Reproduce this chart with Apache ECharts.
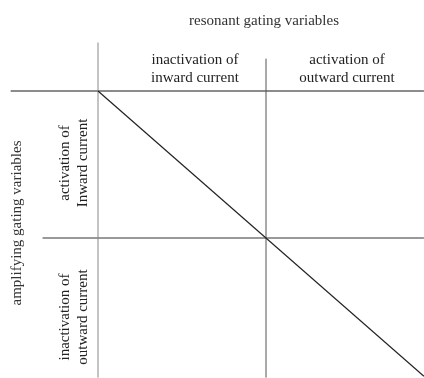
<!DOCTYPE html>
<html>
<head>
<meta charset="utf-8">
<script src="https://cdn.jsdelivr.net/npm/echarts@6/dist/echarts.min.js"></script>
<style>
  html, body { margin: 0; padding: 0; background: #fff; }
  #chart { width: 424px; height: 378px; }
</style>
</head>
<body>
<div id="chart"></div>
<script>
// table units: one column is 1 wide, one row is 1 tall; cell corner at (0, 0)
const columnLabels = ['inactivation of\ninward current', 'activation of\noutward current']
const rowLabels = ['activation of\nInward current', 'inactivation of\noutward current']
const topTitle = 'resonant gating variables'
const sideTitle = 'amplifying gating variables'

const headerRule = [[-0.52, 0], [1.94, 0]]
const middleRule = [[-0.33, 1], [1.94, 1]]
const leftDivider = [[0, -0.33], [0, 1.95]]
const middleDivider = [[1, -0.22], [1, 1.95]]
const diagonal = [[0, 0], [1.94, 1.94]]

const chart = echarts.init(document.getElementById('chart'))

const font = '"Liberation Serif", "DejaVu Serif", serif'

function rule(data, color, width) {
  return {
    type: 'line',
    data: data,
    symbol: 'none',
    silent: true,
    lineStyle: { color: color, width: width }
  }
}

const option = {
  backgroundColor: '#fff',
  animation: false,
  grid: { left: 0, right: 0, top: 0, bottom: 0 },
  xAxis: {
    type: 'value',
    min: -98 / 168,
    max: 326 / 168,
    show: false
  },
  yAxis: {
    type: 'value',
    inverse: true,
    min: -91 / 147,
    max: 287 / 147,
    show: false
  },
  title: {
    text: topTitle,
    left: 259,
    top: 9,
    textAlign: 'center',
    textStyle: { fontFamily: font, fontSize: 15, fontWeight: 'normal', color: '#333' }
  },
  graphic: [
    {
      type: 'text', x: 195, y: 69,
      style: { text: columnLabels[0], font: '15px ' + font, fill: '#222', align: 'center', verticalAlign: 'middle', lineHeight: 18 }
    },
    {
      type: 'text', x: 347, y: 69,
      style: { text: columnLabels[1], font: '15px ' + font, fill: '#222', align: 'center', verticalAlign: 'middle', lineHeight: 18 }
    },
    {
      type: 'text', x: 74, y: 163, rotation: Math.PI / 2,
      style: { text: rowLabels[0], font: '15px ' + font, fill: '#222', align: 'center', verticalAlign: 'middle', lineHeight: 18 }
    },
    {
      type: 'text', x: 74, y: 317, rotation: Math.PI / 2,
      style: { text: rowLabels[1], font: '15px ' + font, fill: '#222', align: 'center', verticalAlign: 'middle', lineHeight: 18 }
    },
    {
      type: 'text', x: 17, y: 223, rotation: Math.PI / 2,
      style: { text: sideTitle, font: '15px ' + font, fill: '#333', align: 'center', verticalAlign: 'middle' }
    }
  ],
  series: [
    rule(headerRule, '#666', 1.6),
    rule(middleRule, '#999', 2),
    rule(leftDivider, '#888', 1),
    rule(middleDivider, '#555', 1),
    rule(diagonal, '#222', 1.2)
  ]
}

chart.setOption(option)
</script>
</body>
</html>
